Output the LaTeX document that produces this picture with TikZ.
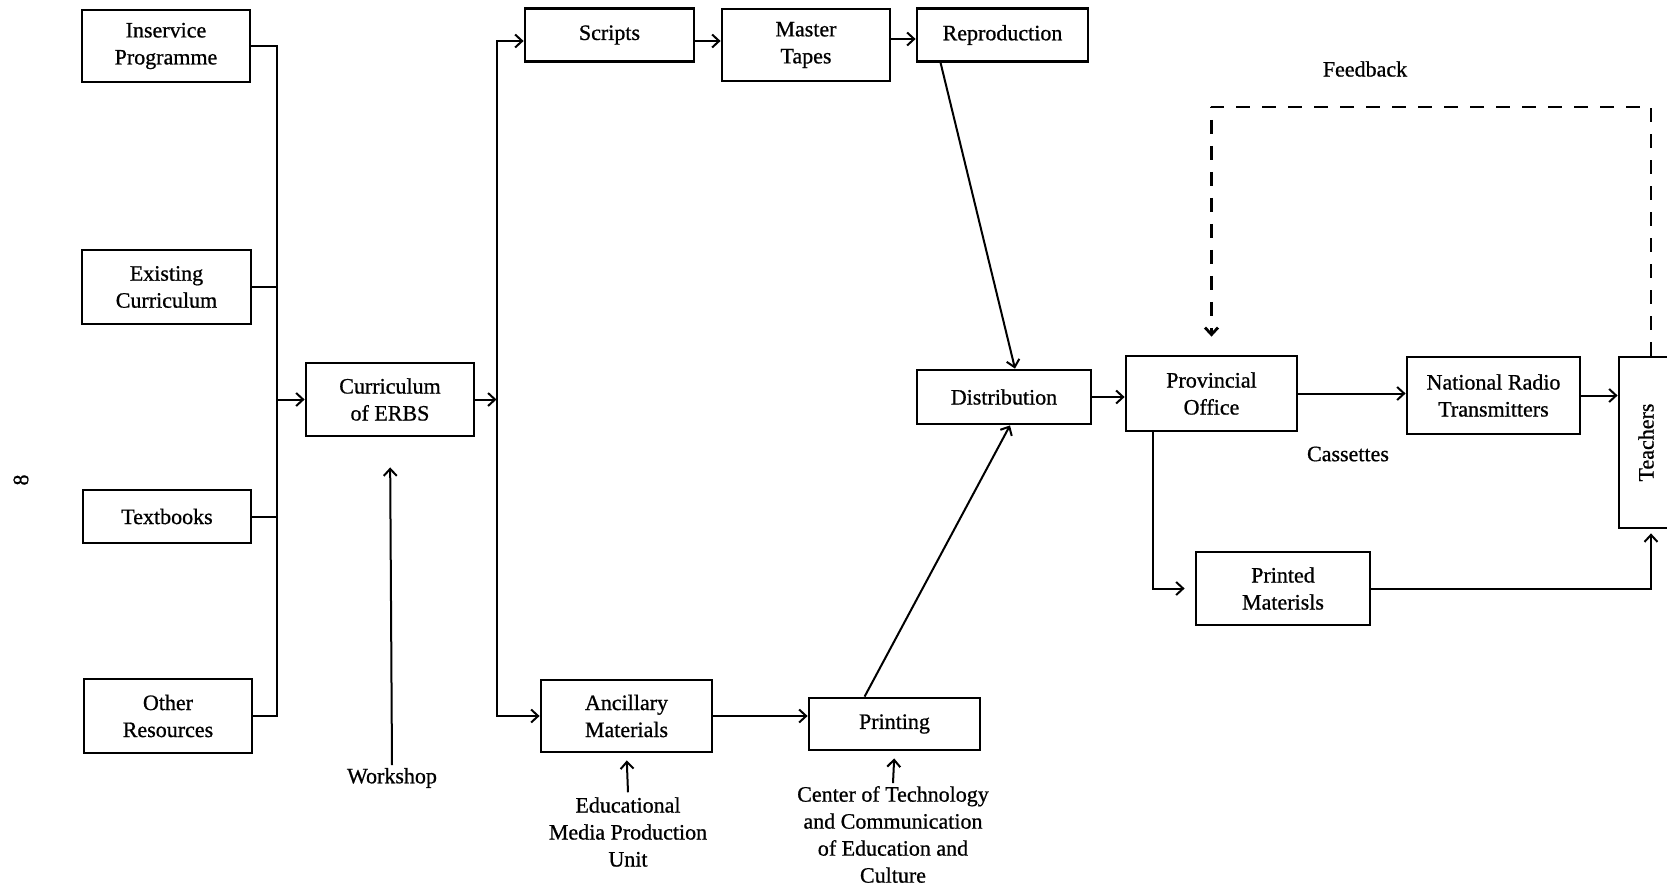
\documentclass[tikz,border=0pt]{standalone}
\usepackage{fontspec}
\setmainfont{Liberation Serif}[FakeBold=0.8]
\usetikzlibrary{arrows.meta}
\begin{document}
\begin{tikzpicture}[x=0.5pt,y=-0.5pt,
  font=\fontsize{11}{13.5}\selectfont,
  >={Straight Barb[length=3.5pt,width=6.5pt]},
  line width=1pt,
  box/.style={draw, line width=1.4pt, inner sep=0pt, align=center},
  lbl/.style={align=center, inner sep=1pt}]
\useasboundingbox (0,0) rectangle (1667,889);
\clip (0,0) rectangle (1667,889);
% left column
\node[box, minimum width=84pt, minimum height=36pt] (inservice) at (166,46) {Inservice\\Programme};
\node[box, minimum width=84.5pt, minimum height=37pt] (existing) at (166.5,287) {Existing\\Curriculum};
\node[box, minimum width=84pt, minimum height=26.5pt] (textbooks) at (167,516.5) {Textbooks};
\node[box, minimum width=84pt, minimum height=37pt] (other) at (168,716) {Other\\Resources};
\node[box, minimum width=84pt, minimum height=36.5pt] (curr) at (390,399.5) {Curriculum\\of ERBS};
% top row
\node[box, minimum width=84.5pt, minimum height=26.5pt] (scripts) at (609.5,35) {Scripts};
\node[box, minimum width=84pt, minimum height=36pt] (master) at (806,45) {Master\\Tapes};
\node[box, minimum width=85.5pt, minimum height=26.5pt] (repro) at (1002.5,35) {Reproduction};
\node[box, minimum width=87pt, minimum height=27pt] (dist) at (1004,397) {Distribution};
% bottom row
\node[box, minimum width=85.5pt, minimum height=36pt] (anc) at (626.5,716) {Ancillary\\Materials};
\node[box, minimum width=85.5pt, minimum height=26pt] (printing) at (894.5,724) {Printing};
% right part
\node[box, minimum width=85.5pt, minimum height=37.5pt] (prov) at (1211.5,393.5) {Provincial\\Office};
\node[box, minimum width=86.5pt, minimum height=38.5pt] (radio) at (1493.5,395.5) {National Radio\\Transmitters};
\node[box, minimum width=27pt, minimum height=85.5pt] (teachers) at (1646,442.5) {\rotatebox{90}{Teachers}};
\node[box, minimum width=87pt, minimum height=36.5pt] (printed) at (1283,588.5) {Printed\\Materisls};
% labels
\node[lbl] (workshop) at (392,778) {Workshop};
\node[lbl, inner sep=2pt] (emp) at (628,832) {Educational\\Media Production\\Unit};
\node[lbl] (ctc) at (893,834.5) {Center of Technology\\and Communication\\of Education and\\Culture};
\node[lbl] (feedback) at (1365,69) {Feedback};
\node[lbl] (cassettes) at (1348,454) {Cassettes};
\node[lbl, rotate=90] (pagenum) at (21,480) {8};
% buses
\coordinate (busL) at (277,0);
\coordinate (busR) at (496.5,0);
\coordinate (fb) at (1211,107);
\draw (inservice.east) -- (inservice.east -| busL) -- (other.east -| busL) -- (other.east);
\draw (existing.east) -- (existing.east -| busL);
\draw (textbooks.east) -- (textbooks.east -| busL);
\draw[->] (curr.west -| busL) -- (curr.west);
\draw[->] (curr.east) -- (curr.east -| busR);
\draw[<->] ([yshift=-3pt]scripts.west) -| (busR |- anc.west) -- (anc.west);
% top chain
\draw[->] ([yshift=-3pt]scripts.east) -- ([yshift=-3pt]master.west |- scripts.east);
\draw[->] ([yshift=-2pt]master.east |- repro.east) -- ([yshift=-2pt]repro.west);
\draw[->] ([xshift=12.5pt]repro.south west) -- ([xshift=5.5pt]dist.north);
% bottom chain
\draw[->] (anc.east) -- (printing.west |- anc.east);
\draw[->] ([xshift=28.5pt]printing.north west) -- ([xshift=3pt]dist.south);
\draw[->, shorten >=3.5pt] (emp.north) -- (anc.south);
\draw[->, shorten >=3.5pt] (ctc.north) -- (printing.south);
\draw[->, shorten >=15pt] (workshop.north) -- (curr.south);
% right chain
\draw[->] (dist.east) -- (prov.west |- dist.east);
\draw[->] (prov.east) -- (radio.west |- prov.east);
\draw[->] (radio.east) -- (teachers.west |- radio.east);
\draw[->, line width=1.4pt, dash pattern=on 7pt off 6pt, shorten >=9pt]
  ([xshift=2.5pt]teachers.north) |- (fb) -| (prov.north);
\draw[->, shorten >=5pt] ([xshift=-29.25pt]prov.south) |- (printed.west);
\draw[->, shorten >=2pt] (printed.east) -| ([xshift=2.5pt]teachers.south);
\end{tikzpicture}
\end{document}
